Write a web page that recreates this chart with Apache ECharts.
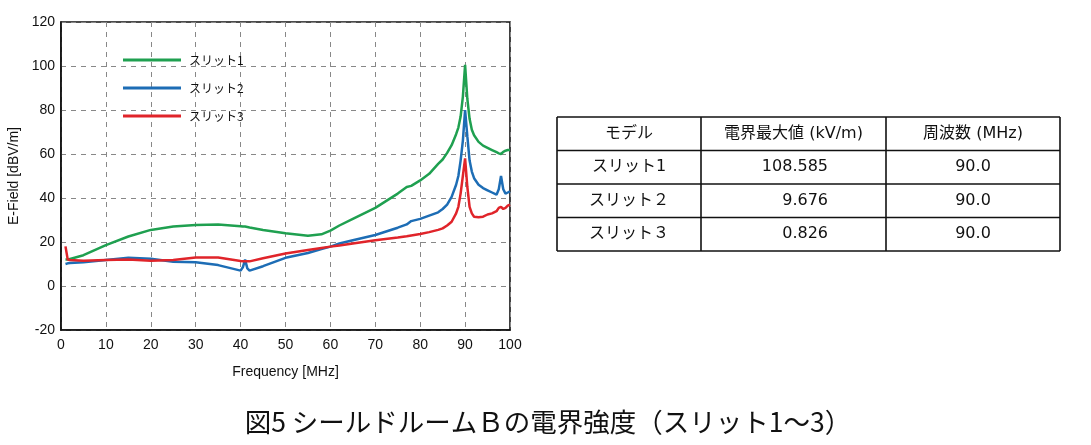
<!DOCTYPE html>
<html>
<head>
<meta charset="utf-8">
<script src="https://cdn.jsdelivr.net/npm/echarts@6/dist/echarts.min.js"></script>
<style>
  html, body { margin: 0; padding: 0; background: #fff; }
</style>
</head>
<body>

<div id="main" style="width: 1091px;height:445px;"></div>

<script type="text/javascript">
    // 周波数 (MHz)
    var freq = [1, 1.5, 2, 5, 10, 15, 20, 25, 30, 35, 40, 40.5, 41, 41.5, 42, 45, 50, 55, 58, 60,
        62, 65, 70, 75, 77, 78, 80, 82, 84, 85, 86, 87, 88, 88.5, 89, 89.5, 90, 90.5, 91, 91.5,
        92, 93, 94, 95, 96, 97, 97.5, 98, 98.5, 99, 99.5, 100];

    // E-Field [dBV/m]
    var slit1 = [12, 12, 12.3, 14, 18.6, 22.5, 25.5, 27, 27.7, 28, 27.2, 27, 27, 26.8, 26.6, 25.5, 24, 22.8, 23.5, 25.2,
        27.5, 30.5, 35.5, 42, 45, 45.5, 48, 51, 55.5, 57.5, 60.5, 64, 69, 72, 77, 86, 100.5, 85, 76, 71,
        68.5, 65.5, 63.8, 62.8, 61.8, 60.8, 60.3, 60, 61, 61.5, 61.8, 61.8];
    var slit2 = [10, 10.3, 10.5, 10.8, 11.8, 12.8, 12.4, 11, 10.8, 9.5, 7, 8.5, 12, 8, 7, 9, 12.8, 15, 16.8, 17.9,
        19.3, 20.8, 23.2, 26.5, 28, 29.5, 30.5, 32, 33.5, 35, 37, 40.5, 46, 50, 57, 66, 80, 68, 57, 52,
        49, 46, 44.5, 43.5, 42.5, 41.5, 44, 50, 44, 42, 42.5, 43];
    var slit3 = [18, 12, 11.8, 11.5, 11.8, 12, 11.5, 11.8, 13, 13, 11.4, 11.3, 11.2, 11.2, 11.2, 12.6, 14.8, 16.4, 17.3, 17.9,
        18.4, 19.3, 20.8, 22, 22.6, 23, 23.6, 24.5, 25.5, 26.2, 27.5, 29.2, 33, 36, 42, 50, 58, 45, 36, 33,
        31.5, 31.2, 31.5, 32.5, 33, 34, 35.5, 36, 35, 35.5, 36.5, 37];

    var seriesNames = ['スリット1', 'スリット2', 'スリット3'];

    // 表
    var tableHeader = ['モデル', '電界最大値 (kV/m)', '周波数 (MHz)'];
    var tableModels = ['スリット1', 'スリット２', 'スリット３'];
    var tableMaxField = ['108.585', '9.676', '0.826'];
    var tableFreq = ['90.0', '90.0', '90.0'];

    var caption = '図5 シールドルームＢの電界強度（スリット1～3）';

    function pairs(ys) {
        return freq.map(function (f, i) { return [f, ys[i]]; });
    }

    var myChart = echarts.init(document.getElementById('main'));

    // 表の枠と文字
    var tX = [557, 701, 886, 1060];
    var tTop = 117, rowH = 33.5;
    var tableEls = [];
    for (var r = 0; r <= 4; r++) {
        tableEls.push({
            type: 'line',
            shape: { x1: tX[0], y1: tTop + r * rowH, x2: tX[3], y2: tTop + r * rowH },
            style: { stroke: '#111', lineWidth: 1.6 }
        });
    }
    for (var c = 0; c < 4; c++) {
        tableEls.push({
            type: 'line',
            shape: { x1: tX[c], y1: tTop, x2: tX[c], y2: tTop + 4 * rowH },
            style: { stroke: '#111', lineWidth: 1.6 }
        });
    }
    var cellFont = '16px "DejaVu Sans", "Noto Sans CJK JP", sans-serif';
    function cell(txt, x, y, align) {
        tableEls.push({
            type: 'text',
            x: x, y: y,
            style: { text: txt, font: cellFont, fill: '#111', align: align || 'center', verticalAlign: 'middle' }
        });
    }
    tableHeader.forEach(function (h, c) {
        cell(h, (tX[c] + tX[c + 1]) / 2, tTop + rowH / 2);
    });
    for (var i = 0; i < 3; i++) {
        var cy = tTop + (i + 1.5) * rowH;
        cell(tableModels[i], (tX[0] + tX[1]) / 2, cy);
        cell(tableMaxField[i], 828, cy, 'right');
        cell(tableFreq[i], (tX[2] + tX[3]) / 2, cy);
    }
    tableEls.push({
        type: 'text',
        x: 548, y: 422,
        style: {
            text: caption, font: '26.5px "Noto Sans CJK JP", sans-serif',
            fill: '#111', align: 'center', verticalAlign: 'middle'
        }
    });

    var axisFont = { fontFamily: '"Liberation Sans", Arial, sans-serif', fontSize: 14, color: '#111' };

    var option = {
        animation: false,
        backgroundColor: '#fff',
        grid: {
            left: 61, right: 581, top: 22, bottom: 115,
            show: true, borderColor: '#111', borderWidth: 1.6
        },
        legend: {
            data: seriesNames,
            orient: 'vertical',
            left: 118, top: 49,
            icon: 'rect',
            itemWidth: 58, itemHeight: 3,
            itemGap: 16,
            textStyle: {
                fontFamily: '"Noto Sans CJK JP", sans-serif', fontSize: 12, color: '#111',
                padding: [0, 0, 0, 3]
            }
        },
        xAxis: {
            type: 'value',
            min: 0, max: 100, interval: 10,
            name: 'Frequency [MHz]',
            nameLocation: 'middle',
            nameGap: 35,
            nameTextStyle: axisFont,
            axisLine: { show: true, onZero: false, lineStyle: { color: '#111', width: 1.6 } },
            axisTick: { show: false },
            axisLabel: Object.assign({ margin: 8 }, axisFont),
            splitLine: { show: true, lineStyle: { color: '#888', type: [5, 5], width: 1 } }
        },
        yAxis: {
            type: 'value',
            min: -20, max: 120, interval: 20,
            name: 'E-Field [dBV/m]',
            nameLocation: 'middle',
            nameGap: 40,
            nameTextStyle: axisFont,
            axisLine: { show: true, lineStyle: { color: '#111', width: 1.6 } },
            axisTick: { show: false },
            axisLabel: Object.assign({ margin: 6 }, axisFont),
            splitLine: { show: true, lineStyle: { color: '#888', type: [5, 5], width: 1 } }
        },
        series: [{
            name: seriesNames[0],
            type: 'line',
            data: pairs(slit1),
            showSymbol: false,
            itemStyle: { color: '#1fa050' },
            lineStyle: { width: 2.5, color: '#1fa050' }
        }, {
            name: seriesNames[1],
            type: 'line',
            data: pairs(slit2),
            showSymbol: false,
            itemStyle: { color: '#1d6db5' },
            lineStyle: { width: 2.5, color: '#1d6db5' }
        }, {
            name: seriesNames[2],
            type: 'line',
            data: pairs(slit3),
            showSymbol: false,
            itemStyle: { color: '#e0242a' },
            lineStyle: { width: 2.5, color: '#e0242a' }
        }],
        graphic: tableEls
    };

    myChart.setOption(option);
</script>

</body>
</html>
